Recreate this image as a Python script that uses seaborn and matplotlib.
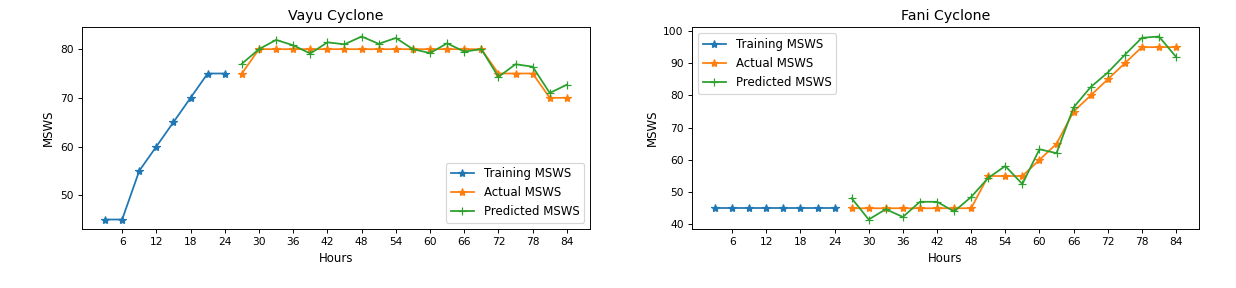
import numpy as np
import pandas as pd
import matplotlib
matplotlib.use("Agg")
import matplotlib.pyplot as plt
from matplotlib.ticker import MultipleLocator
import seaborn as sns

# hours
train_hours = [3, 6, 9, 12, 15, 18, 21, 24]
test_hours = [27, 30, 33, 36, 39, 42, 45, 48, 51, 54, 57, 60, 63, 66, 69, 72, 75, 78, 81, 84]
hour_ticks = [6, 12, 18, 24, 30, 36, 42, 48, 54, 60, 66, 72, 78, 84]

# Vayu cyclone
vayu_train = [45, 45, 55, 60, 65, 70, 75, 75]
vayu_actual = [75, 80, 80, 80, 80, 80, 80, 80, 80, 80, 80, 80, 80, 80, 80, 75, 75, 75, 70, 70]
vayu_pred = [77.0, 80.0, 81.9, 80.8, 79.1, 81.4, 81.0, 82.6, 81.1, 82.3, 80.0, 79.2, 81.2, 79.5, 80.0,
             74.3, 76.9, 76.4, 71.0, 72.7]

# Fani cyclone
fani_train = [45, 45, 45, 45, 45, 45, 45, 45]
fani_actual = [45, 45, 45, 45, 45, 45, 45, 45, 55, 55, 55, 60, 65, 75, 80, 85, 90, 95, 95, 95]
fani_pred = [48.1, 41.5, 44.7, 42.3, 47.0, 47.0, 44.0, 48.5, 54.4, 58.1, 52.5, 63.3, 62.1, 76.3,
             82.6, 87.1, 92.6, 97.9, 98.3, 92.0]

DPI = 85
fig = plt.figure(figsize=(1236 / DPI, 288 / DPI), dpi=DPI)
ax1 = fig.add_axes([0.0663, 0.206, 0.411, 0.699])
ax2 = fig.add_axes([0.5599, 0.206, 0.4102, 0.699])


def draw(ax, train, actual, pred, title, loc):
    sns.lineplot(x=train_hours, y=train, ax=ax, color="C0", marker="*",
                 markeredgecolor="C0", markeredgewidth=1, markersize=7, linewidth=1.5,
                 label="Training MSWS")
    sns.lineplot(x=test_hours, y=actual, ax=ax, color="C1", marker="*",
                 markeredgecolor="C1", markeredgewidth=1, markersize=7, linewidth=1.5,
                 label="Actual MSWS")
    sns.lineplot(x=test_hours, y=pred, ax=ax, color="C2", marker="+",
                 markeredgecolor="C2", markeredgewidth=1, markersize=7, linewidth=1.5,
                 label="Predicted MSWS")
    ax.set_xticks(hour_ticks)
    ax.yaxis.set_major_locator(MultipleLocator(10))
    ax.tick_params(labelsize=9)
    ax.set_title(title)
    ax.set_xlabel("Hours")
    ax.set_ylabel("MSWS")
    ax.legend(loc=loc)


draw(ax1, vayu_train, vayu_actual, vayu_pred, "Vayu Cyclone", "lower right")
draw(ax2, fani_train, fani_actual, fani_pred, "Fani Cyclone", "upper left")

fig.savefig("out.png", dpi=DPI)
